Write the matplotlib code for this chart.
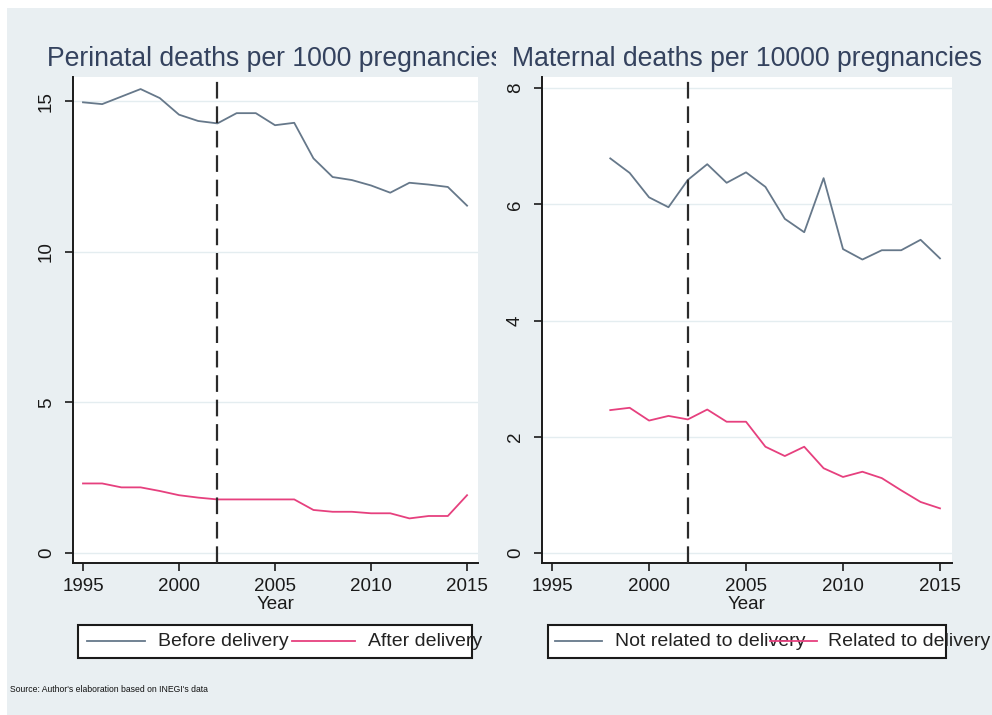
import matplotlib.pyplot as plt
from matplotlib.patches import Rectangle
from matplotlib.lines import Line2D
from matplotlib.transforms import Bbox, TransformedBbox

# perinatal deaths per 1000 pregnancies, 1995 - 2015
years_peri = list(range(1995, 2016))
before_delivery = [14.96, 14.9, 15.15, 15.4, 15.1, 14.55, 14.34, 14.26, 14.6, 14.6, 14.2,
                   14.28, 13.1, 12.48, 12.38, 12.2, 11.96, 12.29, 12.23, 12.15, 11.53]
after_delivery = [2.31, 2.31, 2.18, 2.18, 2.06, 1.92, 1.84, 1.78, 1.78, 1.78, 1.78,
                  1.78, 1.43, 1.37, 1.37, 1.32, 1.32, 1.15, 1.23, 1.23, 1.92]

# maternal deaths per 10000 pregnancies, 1998 - 2015
years_mat = list(range(1998, 2016))
not_related = [6.79, 6.54, 6.12, 5.95, 6.42, 6.69, 6.37, 6.55, 6.30, 5.75, 5.52, 6.45,
               5.23, 5.05, 5.21, 5.21, 5.39, 5.07]
related = [2.46, 2.50, 2.28, 2.36, 2.30, 2.47, 2.26, 2.26, 1.83, 1.67, 1.83, 1.46,
           1.31, 1.40, 1.29, 1.08, 0.88, 0.77]

policy_year = 2002
x_ticks = [1995, 2000, 2005, 2010, 2015]
titles = ["Perinatal deaths per 1000 pregnancies", "Maternal deaths per 10000 pregnancies"]
legend_left = ["Before delivery", "After delivery"]
legend_right = ["Not related to delivery", "Related to delivery"]
source_note = "Source: Author's elaboration based on INEGI's data"

GRAY = "#66788a"
PINK = "#e6407e"
BG = "#e9eff2"
TITLE_C = "#34425e"

plt.rcParams['font.family'] = ['Liberation Sans', 'DejaVu Sans']

W, H = 992, 715
fig = plt.figure(figsize=(W / 100, H / 100), dpi=100, facecolor="white")

def px(x, y):  # pixel coords (from top-left) -> figure fraction
    return x / W, 1 - y / H

# light graph background
fig.patches.append(Rectangle((7 / W, 0), (W - 7) / W, (H - 8) / H, transform=fig.transFigure,
                             facecolor=BG, edgecolor="none", zorder=-10))

def setup_axes(ax, yticks, ylim, xlim, title):
    ax.set_facecolor("white")
    ax.set_xlim(xlim)
    ax.set_ylim(ylim)
    ax.set_xticks(x_ticks)
    ax.set_yticks(yticks)
    for s in ["top", "right"]:
        ax.spines[s].set_visible(False)
    for s in ["left", "bottom"]:
        ax.spines[s].set_linewidth(1.4)
        ax.spines[s].set_color("#1a1a1a")
    ax.tick_params(axis="both", length=6, width=1.2, colors="#1a1a1a", labelsize=13.5)
    ax.tick_params(axis="y", pad=7)
    ax.tick_params(axis="x", pad=5)
    plt.setp(ax.get_yticklabels(), rotation=90, va="center")
    ax.grid(axis="y", color="#e4edf0", linewidth=1.0)
    ax.set_axisbelow(True)
    ax.axvline(policy_year, color="#2b2b2b", linewidth=1.6, linestyle=(0, (7.5, 3.5)), zorder=4)
    # "Year" sits right under the tick labels, as in the stata export
    ax.set_xlabel("Year", fontsize=13.5, color="#1a1a1a")
    ax.xaxis.set_label_coords(0.5, -0.067)
    ax.xaxis.label.set_va("top")
    t = ax.set_title(title, fontsize=19.2, color=TITLE_C, pad=8)
    return t

# left panel
ax1 = fig.add_axes([73 / W, 1 - 563 / H, (478 - 73) / W, (563 - 77) / H])
ax1.plot(years_peri, before_delivery, color=GRAY, linewidth=1.3)
ax1.plot(years_peri, after_delivery, color=PINK, linewidth=1.3)
t1 = setup_axes(ax1, [0, 5, 10, 15], (-0.33, 15.8), (1994.48, 2015.57), titles[0])
# the right graph covers the end of the left title
t1.set_clip_box(TransformedBbox(Bbox.from_extents(0, 0, 496 / W, 1), fig.transFigure))
t1.set_clip_on(True)

# right panel
ax2 = fig.add_axes([542 / W, 1 - 563 / H, (952 - 542) / W, (563 - 77) / H])
ax2.plot(years_mat, not_related, color=GRAY, linewidth=1.3)
ax2.plot(years_mat, related, color=PINK, linewidth=1.3)
setup_axes(ax2, [0, 2, 4, 6, 8], (-0.17, 8.19), (1994.48, 2015.62), titles[1])

# stata style legends (text spills over the box)
def draw_legend(box, keys, texts, labels):
    x0, x1 = box
    (fx0, fy0), (fx1, fy1) = px(x0, 658), px(x1, 625)
    fig.patches.append(Rectangle((fx0, fy0), fx1 - fx0, fy1 - fy0, transform=fig.transFigure,
                                 facecolor="white", edgecolor="#1a1a1a", linewidth=1.5, zorder=1))
    for (k0, k1), c in zip(keys, [GRAY, PINK]):
        a, yy = px(k0, 641)
        b, _ = px(k1, 641)
        fig.lines.append(Line2D([a, b], [yy, yy], transform=fig.transFigure, color=c,
                                linewidth=1.3, zorder=3))
    for tx, lab in zip(texts, labels):
        fx, fy = px(tx, 641)
        fig.text(fx, fy, lab, fontsize=14.0, color="#222222", va="center", ha="left", zorder=2)

draw_legend((78, 472), [(87, 145), (292, 355)], [158, 368], legend_left)
draw_legend((548, 946), [(555, 602), (770, 817)], [615, 828], legend_right)

fig.text(10 / W, 1 - 690 / H, source_note, fontsize=6.2, color="#111111", va="center")

plt.savefig("out.png", dpi=100, facecolor=fig.get_facecolor())
